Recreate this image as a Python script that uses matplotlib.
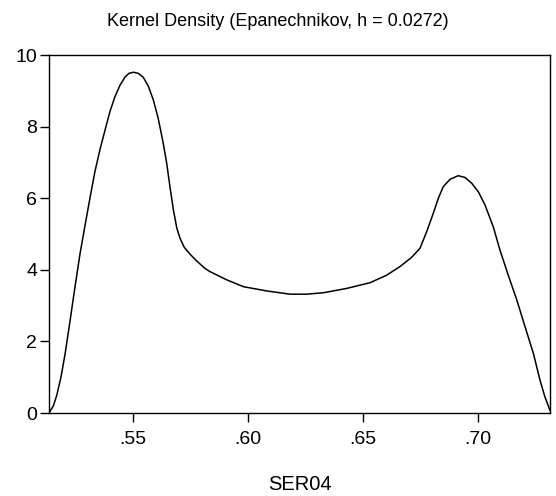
import numpy as np
import matplotlib
matplotlib.use("Agg")
import matplotlib.pyplot as plt
from matplotlib.ticker import FuncFormatter

plt.rcParams['font.family'] = ['Liberation Sans', 'DejaVu Sans']

# density curve
ser04 = [0.5136, 0.5155, 0.5170, 0.5188, 0.5206, 0.5227, 0.5249, 0.5271,
         0.5293, 0.5314, 0.5336, 0.5358, 0.5380, 0.5401, 0.5423, 0.5445,
         0.5467, 0.5484, 0.5503, 0.5524, 0.5546, 0.5568, 0.5590, 0.5611,
         0.5633, 0.5648, 0.5662, 0.5677, 0.5692, 0.5706, 0.5724, 0.5749,
         0.5778, 0.5814, 0.5836, 0.5909, 0.5981, 0.6083, 0.6184, 0.6257,
         0.6329, 0.6430, 0.6532, 0.6604, 0.6662, 0.6713, 0.6749, 0.6778,
         0.6807, 0.6829, 0.6850, 0.6880, 0.6916, 0.6945, 0.6974, 0.7003,
         0.7032, 0.7068, 0.7097, 0.7133, 0.7170, 0.7206, 0.7242, 0.7271,
         0.7292, 0.7314]
density = [0.00, 0.20, 0.50, 1.00, 1.65, 2.55, 3.52, 4.45,
           5.25, 6.00, 6.75, 7.37, 7.91, 8.42, 8.84, 9.16,
           9.39, 9.49, 9.52, 9.49, 9.38, 9.13, 8.74, 8.23,
           7.53, 6.97, 6.32, 5.67, 5.16, 4.88, 4.63, 4.44,
           4.25, 4.04, 3.95, 3.72, 3.53, 3.41, 3.32, 3.32,
           3.36, 3.48, 3.64, 3.85, 4.09, 4.35, 4.60, 5.06,
           5.58, 6.00, 6.32, 6.53, 6.63, 6.58, 6.42, 6.18,
           5.81, 5.20, 4.55, 3.85, 3.16, 2.41, 1.67, 0.92,
           0.46, 0.08]

x_ticks = [0.55, 0.60, 0.65, 0.70]
y_ticks = [0, 2, 4, 6, 8, 10]

fig = plt.figure(figsize=(5.56, 4.96), dpi=100)
ax = fig.add_axes([0.0881, 0.1673, 0.9009, 0.7217])

ax.plot(ser04, density, color='black', linewidth=1.1)

ax.set_xlim(0.5136, 0.7314)
ax.set_ylim(0, 10)
ax.set_xticks(x_ticks)
ax.set_yticks(y_ticks)
ax.xaxis.set_major_formatter(FuncFormatter(lambda v, p: ('%.2f' % v).lstrip('0')))
ax.tick_params(direction='out', length=6.5, width=1, labelsize=14)
ax.tick_params(axis='x', pad=6.8)
ax.tick_params(axis='y', pad=2)
for s in ax.spines.values():
    s.set_linewidth(1)

fig.text(0.5, 1 - 21.5 / 496, 'Kernel Density (Epanechnikov, h = 0.0272)',
         fontsize=13, ha='center', va='center')
fig.text(0.54, 1 - 484.5 / 496, 'SER04', fontsize=14.5, ha='center', va='center')

fig.savefig('out.png', dpi=100)
